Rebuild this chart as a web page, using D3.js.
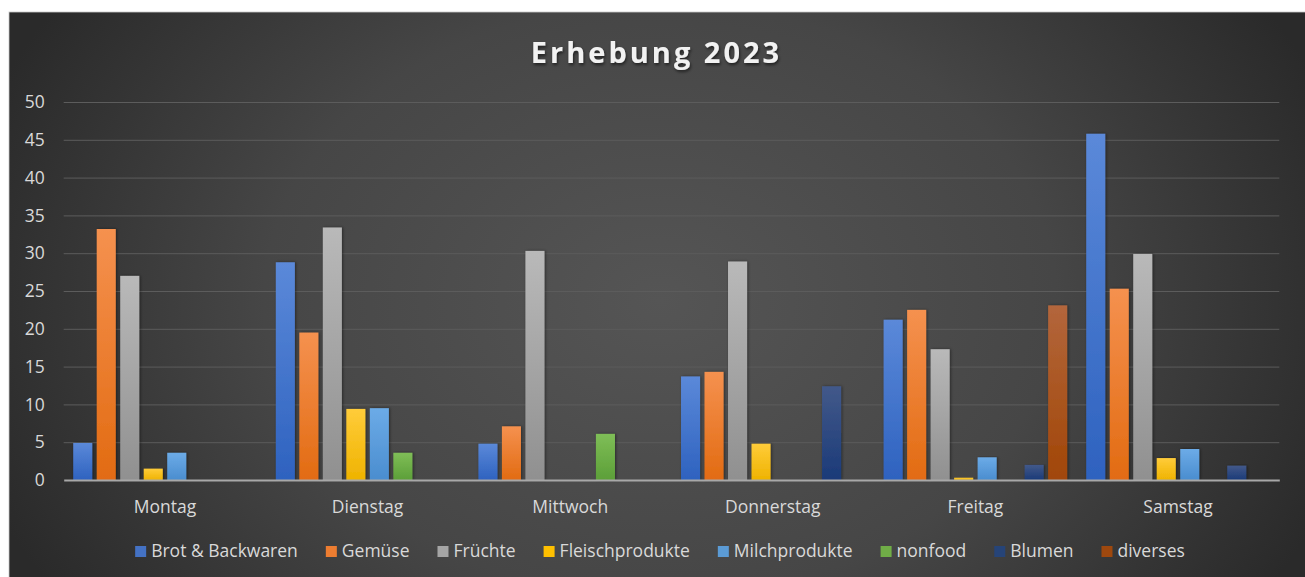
<!DOCTYPE html>
<html>
<head>
<meta charset="utf-8">
<script src="https://cdn.jsdelivr.net/npm/d3@7"></script>
<style>
  html, body { margin: 0; padding: 0; background: #ffffff; }
  svg { display: block; }
  text { font-family: "Open Sans", "DejaVu Sans", sans-serif; }
</style>
</head>
<body>
<svg id="chart" width="1305" height="577"></svg>
<script>
// ---- data ----
const title = "Erhebung 2023";
const days = ["Montag", "Dienstag", "Mittwoch", "Donnerstag", "Freitag", "Samstag"];
const seriesNames = ["Brot & Backwaren", "Gemüse", "Früchte", "Fleischprodukte", "Milchprodukte", "nonfood", "Blumen", "diverses"];
const brot       = [4.9, 28.8, 4.8, 13.7, 21.2, 45.8];
const gemuese    = [33.2, 19.5, 7.1, 14.3, 22.5, 25.3];
const fruechte   = [27.0, 33.4, 30.3, 28.9, 17.3, 29.9];
const fleisch    = [1.5, 9.4, 0, 4.8, 0.3, 2.9];
const milch      = [3.6, 9.5, 0, 0, 3.0, 4.1];
const nonfood    = [0, 3.6, 6.1, 0, 0, 0];
const blumen     = [0, 0, 0, 12.4, 2.0, 1.9];
const diverses   = [0, 0, 0, 0, 23.1, 0];
const yTicks = [0, 5, 10, 15, 20, 25, 30, 35, 40, 45, 50];

const seriesValues = [brot, gemuese, fruechte, fleisch, milch, nonfood, blumen, diverses];
const colorsTop    = ["#5b89d9", "#f5914f", "#b9b9b9", "#ffcc3a", "#6cabe7", "#7fbe57", "#42598a", "#b3663c"];
const colorsBottom = ["#2e62bf", "#e26b12", "#909090", "#efb300", "#4a8dcf", "#5c9f38", "#1b3a78", "#a14607"];
const legendColors = ["#4472c4", "#ed7d31", "#a5a5a5", "#ffc000", "#5b9bd5", "#70ad47", "#264478", "#9e480e"];

// ---- layout ----
const W = 1305, H = 577;
const frame = { x: 9, y: 12 };
const plot = { left: 63.7, right: 1279.3, top: 102, bottom: 480 };

const svg = d3.select("#chart");
const defs = svg.append("defs");

const bg = defs.append("radialGradient").attr("id", "bgGrad")
  .attr("gradientUnits", "userSpaceOnUse")
  .attr("cx", 660).attr("cy", 300).attr("r", 720)
  .attr("gradientTransform", "translate(660,300) scale(1,0.75) translate(-660,-300)");
bg.append("stop").attr("offset", "0%").attr("stop-color", "#555555");
bg.append("stop").attr("offset", "55%").attr("stop-color", "#464646");
bg.append("stop").attr("offset", "100%").attr("stop-color", "#2a2a2a");

seriesNames.forEach((s, i) => {
  const g = defs.append("linearGradient").attr("id", "bar" + i)
    .attr("x1", 0).attr("y1", 0).attr("x2", 0).attr("y2", 1);
  g.append("stop").attr("offset", "0%").attr("stop-color", colorsTop[i]);
  g.append("stop").attr("offset", "100%").attr("stop-color", colorsBottom[i]);
});

const shadow = defs.append("filter").attr("id", "tshadow")
  .attr("x", "-10%").attr("y", "-30%").attr("width", "120%").attr("height", "160%");
shadow.append("feDropShadow").attr("dx", 1).attr("dy", 2).attr("stdDeviation", 1.5)
  .attr("flood-color", "#000").attr("flood-opacity", 0.55);

const barShadow = defs.append("filter").attr("id", "bshadow")
  .attr("x", "-30%").attr("y", "-5%").attr("width", "160%").attr("height", "110%");
barShadow.append("feDropShadow").attr("dx", 1).attr("dy", 0).attr("stdDeviation", 1.5)
  .attr("flood-color", "#000").attr("flood-opacity", 0.45);

// background
svg.append("rect").attr("x", 0).attr("y", 0).attr("width", W).attr("height", H).attr("fill", "#ffffff");
svg.append("rect").attr("x", frame.x).attr("y", frame.y)
  .attr("width", W - frame.x + 2).attr("height", H - frame.y + 2)
  .attr("fill", "url(#bgGrad)").attr("stroke", "#c8c8c8").attr("stroke-width", 0.8);

// scales
const x0 = d3.scaleBand().domain(days).range([plot.left, plot.right]).padding(0);
const step = x0.bandwidth();
const gapHalf = step * 0.047;
const x1 = d3.scaleBand().domain(seriesNames).range([gapHalf, step - gapHalf]).paddingInner(0.19).paddingOuter(0);
const y = d3.scaleLinear().domain([0, 50]).range([plot.bottom, plot.top]);

// gridlines
const grid = svg.append("g").attr("transform", `translate(${plot.left},0)`)
  .call(d3.axisLeft(y).tickValues(yTicks.filter(t => t > 0)).tickSize(-(plot.right - plot.left)).tickFormat(""));
grid.select(".domain").remove();
grid.selectAll("line").attr("stroke", "#5c5c5c").attr("stroke-width", 1);

// y labels
const yAx = svg.append("g").attr("transform", `translate(${plot.left},0)`)
  .call(d3.axisLeft(y).tickValues(yTicks).tickSize(0).tickPadding(19));
yAx.select(".domain").remove();
yAx.selectAll("text").attr("fill", "#d9d9d9").style("font-size", "17.5px").style("font-family", "'Open Sans', sans-serif");

// bars
const table = days.map((d, di) => ({ day: d, vals: seriesNames.map((s, si) => ({ s, si, v: seriesValues[si][di] })) }));
const groups = svg.append("g").selectAll("g").data(table).join("g")
  .attr("transform", d => `translate(${x0(d.day)},0)`);
groups.selectAll("rect").data(d => d.vals.filter(v => v.v > 0)).join("rect")
  .attr("x", d => x1(d.s))
  .attr("width", x1.bandwidth())
  .attr("y", d => y(d.v))
  .attr("height", d => y(0) - y(d.v))
  .attr("fill", d => `url(#bar${d.si})`)
  .attr("filter", "url(#bshadow)");

// baseline axis
const xAx = svg.append("g").attr("transform", `translate(0,${plot.bottom})`)
  .call(d3.axisBottom(x0).tickSize(0).tickPadding(20.5));
xAx.select(".domain").attr("stroke", "#a8a8a8").attr("stroke-width", 2);
xAx.selectAll("text").attr("fill", "#d9d9d9").style("font-size", "17.5px").style("font-family", "'Open Sans', sans-serif");

// title
svg.append("text").text(title)
  .attr("x", 656.5).attr("y", 62.5)
  .attr("text-anchor", "middle")
  .attr("fill", "#f2f2f2")
  .style("font-size", "29px").style("font-weight", "bold").style("letter-spacing", "3px")
  .attr("filter", "url(#tshadow)");

// legend
const legend = svg.append("g");
const items = legend.selectAll("g").data(seriesNames).join("g");
items.append("rect").attr("width", 11).attr("height", 11).attr("y", -11)
  .attr("fill", (d, i) => legendColors[i]);
items.append("text").text(d => d).attr("x", 16).attr("y", 0)
  .attr("fill", "#d9d9d9").style("font-size", "17.5px");
let cx = 0;
const sqW = 16, gapItems = 28;
const positions = [];
items.each(function() {
  const tw = d3.select(this).select("text").node().getComputedTextLength();
  positions.push(cx);
  cx += sqW + tw + gapItems;
});
const total = cx - gapItems;
const lx = 660 - total / 2;
items.attr("transform", (d, i) => `translate(${lx + positions[i]},557)`);
</script>
</body>
</html>
